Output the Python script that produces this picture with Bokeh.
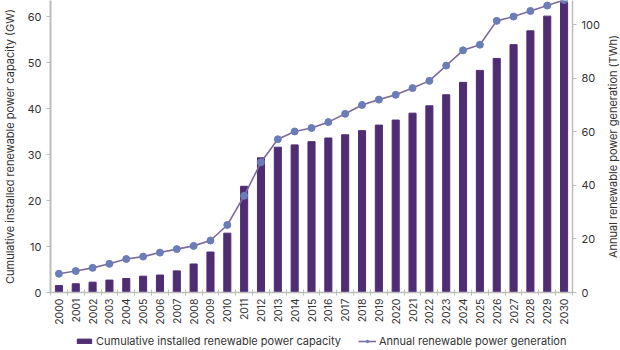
from bokeh.plotting import figure
from bokeh.layouts import column, row
from bokeh.models import (Range1d, LinearAxis, FixedTicker, SingleIntervalTicker, Title,
                          Legend, LegendItem, ColumnDataSource, BasicTickFormatter)
from bokeh.embed import file_html
from bokeh.resources import INLINE

years = list(range(2000, 2031))
capacity_gw = [1.5, 1.9, 2.25, 2.7, 3.05, 3.55, 3.8, 4.7, 6.2, 8.8, 12.9, 23.1, 29.3, 31.6,
               32.1, 32.8, 33.6, 34.3, 35.2, 36.4, 37.5, 39.0, 40.6, 43.0, 45.7, 48.3, 50.9,
               53.9, 56.9, 60.1, 63.1]
generation_twh = [7.0, 8.0, 9.2, 10.7, 12.5, 13.4, 14.9, 16.2, 17.4, 19.4, 25.2, 36.1, 48.6,
                  57.2, 60.1, 61.4, 63.6, 66.7, 70.0, 72.0, 73.8, 76.3, 79.0, 84.7, 90.4,
                  92.5, 101.4, 103.0, 105.1, 107.1, 109.2]
left_label = "Cumulative installed renewable power capacity (GW)"
right_label = "Annual renewable power generation (TWh)"

FONT = "Inter"
TXT = "#333333"
AXC = "#bdbdbd"
BAR = "#4f2d73"
LINE = "#7e6b9b"
MARK = "#6b7db8"

src = ColumnDataSource(dict(year=years, cap=capacity_gw, gen=generation_twh))

p = figure(width=585, height=328, output_backend="svg", toolbar_location=None,
           x_range=Range1d(1999.5, 2030.5), y_range=Range1d(0, 63.5),
           min_border_left=32, min_border_right=31, min_border_top=0, min_border_bottom=36)
p.outline_line_color = None
p.xgrid.visible = False
p.ygrid.visible = False
p.extra_y_ranges = {"gen": Range1d(0, 109)}

p.vbar(x="year", top="cap", width=0.42, source=src, color=BAR)
p.line(x="year", y="gen", source=src, y_range_name="gen", color=LINE, line_width=1.6)
p.scatter(x="year", y="gen", source=src, y_range_name="gen", size=7,
          fill_color=MARK, line_color=MARK)

# x axis
xa = p.xaxis[0]
xa.ticker = FixedTicker(ticks=years, minor_ticks=[y - 0.5 for y in years] + [2030.5])
xa.formatter = BasicTickFormatter(use_scientific=False)
xa.major_tick_line_color = None
xa.major_tick_out = 0
xa.major_tick_in = 0
xa.minor_tick_in = 3
xa.minor_tick_out = 3
xa.minor_tick_line_color = AXC
xa.axis_line_color = AXC
xa.axis_line_width = 1.5
xa.major_label_orientation = 1.5708
xa.major_label_text_font = FONT
xa.major_label_text_font_size = "10.5px"
xa.major_label_text_color = TXT
xa.major_label_standoff = 3

# left y axis
ya = p.yaxis[0]
ya.ticker = SingleIntervalTicker(interval=10)
ya.major_label_text_font = FONT
ya.major_label_text_font_size = "11px"
ya.major_label_text_color = TXT
ya.axis_line_color = AXC
ya.axis_line_width = 2
ya.major_tick_line_color = AXC
ya.major_tick_in = 0
ya.major_tick_out = 4
ya.minor_tick_line_color = None

# right y axis
ra = LinearAxis(y_range_name="gen", ticker=SingleIntervalTicker(interval=20))
ra.major_label_text_font = FONT
ra.major_label_text_font_size = "11px"
ra.major_label_text_color = TXT
ra.axis_line_color = AXC
ra.axis_line_width = 1.5
ra.major_tick_line_color = AXC
ra.major_tick_in = 0
ra.major_tick_out = 4
ra.minor_tick_line_color = None
p.add_layout(ra, "right")


def side_label(text, width):
    f = figure(width=width, height=328, output_backend="svg", toolbar_location=None,
               x_range=Range1d(0, 1), y_range=Range1d(0, 1),
               x_axis_location=None, y_axis_location=None,
               min_border_left=0, min_border_right=0, min_border_top=0, min_border_bottom=36)
    f.xgrid.visible = False
    f.ygrid.visible = False
    f.outline_line_color = None
    f.add_layout(Title(text=text, align="center", text_font=FONT, text_font_size="11px",
                       text_font_style="normal", text_color=TXT, standoff=0, offset=0), "left")
    return f


lfig = side_label(left_label, 18)
rfig = side_label(right_label, 17)

# legend strip (separate small figure below the chart, its glyphs kept out of view)
lg = figure(width=620, height=22, output_backend="svg", toolbar_location=None,
            x_range=Range1d(1999.5, 2030.5), y_range=Range1d(1000, 1001),
            min_border_left=0, min_border_right=0, min_border_top=0, min_border_bottom=0)
lg.axis.visible = False
lg.xgrid.visible = False
lg.ygrid.visible = False
lg.outline_line_color = None
lb = lg.vbar(x="year", top="cap", width=0.42, source=src, color=BAR)
ll = lg.line(x="year", y="gen", source=src, color=LINE, line_width=1.6)
lp = lg.scatter(x="year", y="gen", source=src, size=7, fill_color=MARK, line_color=MARK)

legend = Legend(items=[
    LegendItem(label="Cumulative installed renewable power capacity", renderers=[lb]),
    LegendItem(label="Annual renewable power generation", renderers=[ll, lp]),
], orientation="horizontal", location=(75, 2))
legend.label_text_font = FONT
legend.label_text_font_size = "11px"
legend.label_text_color = TXT
legend.glyph_width = 18
legend.glyph_height = 6
legend.label_height = 14
legend.label_standoff = 3
legend.spacing = 17
legend.padding = 2
legend.margin = 0
legend.border_line_color = None
legend.background_fill_alpha = 0
lg.add_layout(legend)

layout = column(row(lfig, p, rfig, spacing=0), lg, spacing=0)
open("out.html", "w").write(file_html(layout, INLINE))
